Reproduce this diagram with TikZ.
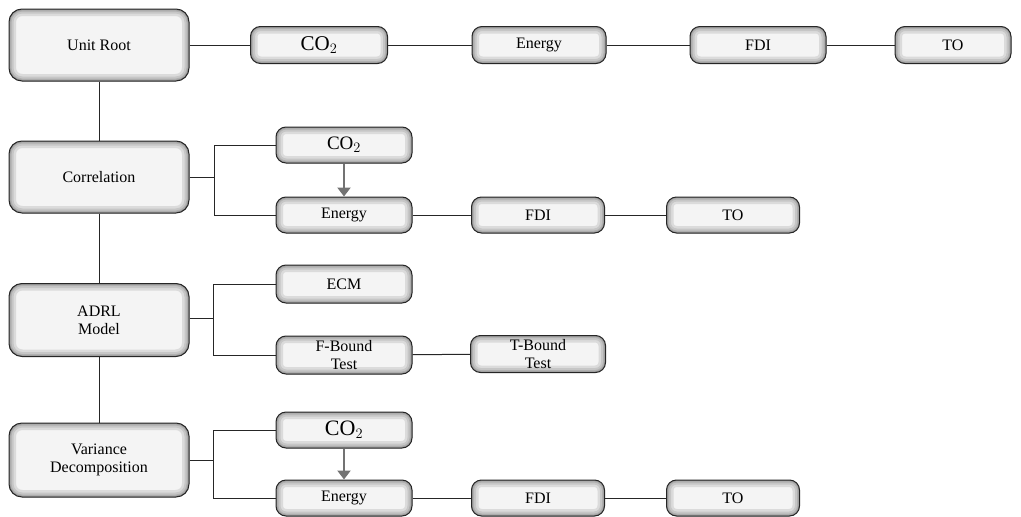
\documentclass[tikz,border=0pt]{standalone}
\usepackage{fontspec}
\setmainfont{Liberation Serif}
\usetikzlibrary{arrows.meta}
\tikzset{
  box/.style={draw=black!85, line width=1pt, fill=gray!9, inner sep=0pt, align=center,
    rounded corners=#1,
    path picture={
      \draw[line width=14pt, gray!28, rounded corners=#1] (path picture bounding box.south west) rectangle (path picture bounding box.north east);
      \draw[line width=9pt, gray!45, rounded corners=#1] (path picture bounding box.south west) rectangle (path picture bounding box.north east);
      \draw[line width=5pt, gray!62, rounded corners=#1] (path picture bounding box.south west) rectangle (path picture bounding box.north east);
      \draw[line width=2.4pt, gray!80, rounded corners=#1] (path picture bounding box.south west) rectangle (path picture bounding box.north east);
    }},
  bigbox/.style={box=13pt, minimum width=180pt, minimum height=72pt, font=\fontsize{16}{18}\selectfont},
  smallbox/.style={box=10pt, minimum height=37pt, font=\fontsize{16}{18}\selectfont},
  conn/.style={draw=black!85, line width=1pt},
  arr/.style={draw=black!55, line width=2.4pt, -{Triangle[length=9pt,width=13pt]}}
}
\begin{document}
\begin{tikzpicture}[x=1pt,y=-1pt]
\useasboundingbox (0,0) rectangle (1021,517);
% row 1
\node[bigbox] (ur) at (99,45) {Unit Root};
\node[smallbox, minimum width=137pt, font=\fontsize{21}{22}\selectfont] (c1) at (319,45) {CO$_2$};
\node[smallbox, minimum width=134pt] (e1) at (539,45) {Energy};
\node[smallbox, minimum width=136pt] (f1) at (758,45) {FDI};
\node[smallbox, minimum width=116pt] (t1) at (953,45) {TO};
% row 2
\node[bigbox] (cor) at (99,177) {Correlation};
\node[smallbox, minimum width=136pt, minimum height=36pt, font=\fontsize{19}{20}\selectfont] (c2) at (344,145) {CO$_2$};
\node[smallbox, minimum width=136pt, minimum height=36pt] (e2) at (344,215) {Energy};
\node[smallbox, minimum width=133pt, minimum height=36pt] (f2) at (538,215) {FDI};
\node[smallbox, minimum width=133pt, minimum height=36pt] (t2) at (733,215) {TO};
% row 3
\node[bigbox, minimum height=73pt] (adrl) at (99,320) {ADRL\\Model};
\node[smallbox, minimum width=136pt, minimum height=38pt] (ecm) at (344,284) {ECM};
\node[smallbox, minimum width=136pt, minimum height=38pt] (fb) at (344,355) {F-Bound\\Test};
\node[smallbox, minimum width=135pt, minimum height=37pt] (tb) at (538,354) {T-Bound\\Test};
% row 4
\node[bigbox, minimum height=74pt] (var) at (99,460) {Variance\\Decomposition};
\node[smallbox, minimum width=136pt, minimum height=36pt, font=\fontsize{22}{23}\selectfont] (c4) at (344,430) {CO$_2$};
\node[smallbox, minimum width=136pt, minimum height=36pt] (e4) at (344,498) {Energy};
\node[smallbox, minimum width=133pt, minimum height=36pt] (f4) at (538,498) {FDI};
\node[smallbox, minimum width=133pt, minimum height=36pt] (t4) at (733,498) {TO};
% junctions
\coordinate (j2) at (214,177);
\coordinate (j3) at (213,318);
\coordinate (j4) at (213,460);
% connectors
\draw[conn] (ur) -- (c1);
\draw[conn] (c1) -- (e1);
\draw[conn] (e1) -- (f1);
\draw[conn] (f1) -- (t1);
\draw[conn] (ur) -- (cor);
\draw[conn] (cor) -- (adrl);
\draw[conn] (adrl) -- (var);
\draw[conn] (cor.east) -- (j2);
\draw[conn] (j2) |- (c2.west);
\draw[conn] (j2) |- (e2.west);
\draw[conn] (e2) -- (f2);
\draw[conn] (f2) -- (t2);
\draw[conn] (adrl.east |- j3) -- (j3);
\draw[conn] (j3) |- (ecm.west);
\draw[conn] (j3) |- (fb.west);
\draw[conn] (fb) -- (tb);
\draw[conn] (var.east) -- (j4);
\draw[conn] (j4) |- (c4.west);
\draw[conn] (j4) |- (e4.west);
\draw[conn] (e4) -- (f4);
\draw[conn] (f4) -- (t4);
\draw[arr] (c2.south) -- (e2.north);
\draw[arr] (c4.south) -- (e4.north);
\end{tikzpicture}
\end{document}
